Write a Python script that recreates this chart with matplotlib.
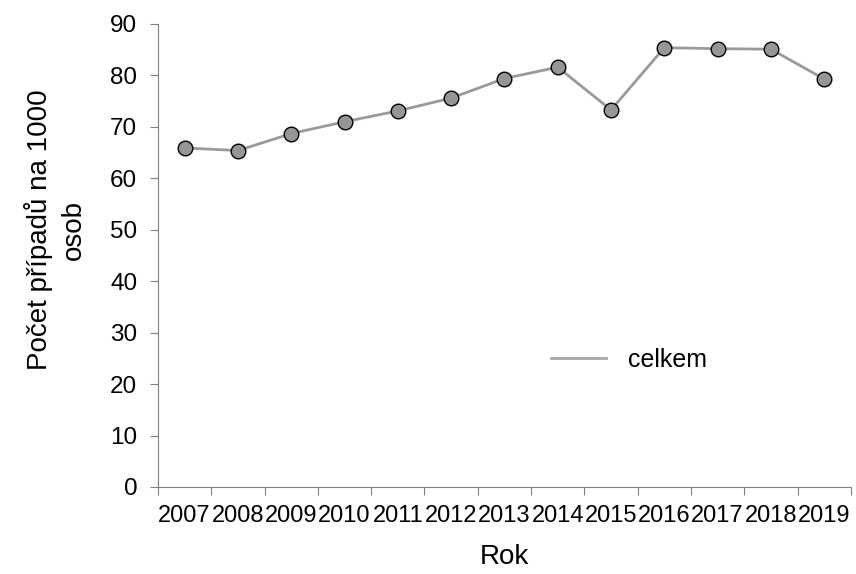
import matplotlib.pyplot as plt
from matplotlib.lines import Line2D
import numpy as np

roky = ['2007', '2008', '2009', '2010', '2011', '2012', '2013',
        '2014', '2015', '2016', '2017', '2018', '2019']
celkem = [65.9, 65.4, 68.7, 71.0, 73.1, 75.6, 79.4,
          81.6, 73.3, 85.4, 85.2, 85.1, 79.3]

plt.rcParams['font.family'] = ['Liberation Sans', 'DejaVu Sans']

fig = plt.figure(figsize=(8.56, 5.74), dpi=100)
ax = fig.add_axes([0.1846, 0.1516, 0.8094, 0.8066])

x = np.arange(len(roky))
ax.plot(x, celkem, color='#9a9a9a', lw=2.0, marker='o', ms=10.5,
        mfc='#969696', mec='black', mew=1.0)

ax.set_xlim(-0.5, len(roky) - 0.5)
ax.set_ylim(0, 90)
ax.set_yticks(range(0, 91, 10))

# Excel-style: ticks between categories, labels at centres
ax.set_xticks(np.arange(-0.5, len(roky)), labels=[''] * (len(roky) + 1))
ax.set_xticks(x, labels=roky, minor=True)
ax.tick_params(axis='x', which='minor', length=0, pad=13, labelsize=17)
ax.tick_params(axis='x', which='major', length=6, color='#808080')
ax.tick_params(axis='y', length=6, color='#808080', pad=9, labelsize=17.5)

for s in ['top', 'right']:
    ax.spines[s].set_visible(False)
for s in ['left', 'bottom']:
    ax.spines[s].set_color('#808080')

ax.set_xlabel('Rok', fontsize=20, labelpad=12)
ax.set_ylabel('Počet případů na 1000\nosob', fontsize=20, linespacing=1.4)
ax.yaxis.set_label_coords(-0.103, 0.555)

h = [Line2D([], [], color='#a8a8a8', lw=2.0)]
ax.legend(h, ['celkem'], loc='center', bbox_to_anchor=(0.68, 0.274),
          frameon=False, fontsize=18, handlelength=2.2, handletextpad=0.9)

fig.savefig('out.png', dpi=100)
